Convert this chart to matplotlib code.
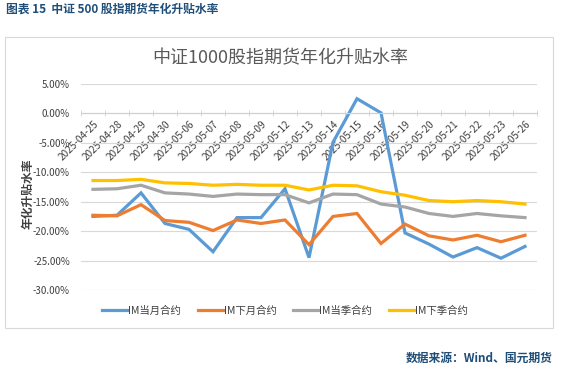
import matplotlib
matplotlib.use("Agg")
import matplotlib.pyplot as plt
from matplotlib.patches import Rectangle
import numpy as np

plt.rcParams['font.family'] = ['Noto Sans CJK SC', 'DejaVu Sans']

dates = ['2025-04-25', '2025-04-28', '2025-04-29', '2025-04-30', '2025-05-06',
         '2025-05-07', '2025-05-08', '2025-05-09', '2025-05-12', '2025-05-13',
         '2025-05-14', '2025-05-15', '2025-05-16', '2025-05-19', '2025-05-20',
         '2025-05-21', '2025-05-22', '2025-05-23', '2025-05-26']

# annualised basis, %
im_cur_month = [-17.5, -17.3, -13.5, -18.7, -19.7, -23.5, -17.7, -17.7, -12.8, -24.5,
                -4.9, 2.5, 0.1, -20.3, -22.2, -24.4, -22.8, -24.6, -22.6]
im_next_month = [-17.3, -17.4, -15.5, -18.2, -18.5, -19.9, -18.1, -18.7, -18.1, -22.3,
                 -17.5, -17.0, -22.1, -18.8, -20.8, -21.5, -20.7, -21.8, -20.7]
im_cur_quarter = [-12.9, -12.8, -12.2, -13.5, -13.7, -14.1, -13.7, -13.8, -13.8, -15.2,
                  -13.7, -13.8, -15.4, -15.9, -17.0, -17.5, -17.0, -17.4, -17.7]
im_next_quarter = [-11.4, -11.4, -11.2, -11.8, -11.9, -12.2, -12.05, -12.2, -12.2, -13.0,
                   -12.2, -12.3, -13.3, -13.9, -14.8, -15.0, -14.8, -15.0, -15.4]

names = ['IM当月合约', 'IM下月合约', 'IM当季合约', 'IM下季合约']
colors = ['#5B9BD5', '#ED7D31', '#A5A5A5', '#FFC000']
yticks = [5, 0, -5, -10, -15, -20, -25, -30]

W, H = 570, 380
fig = plt.figure(figsize=(W / 100, H / 100), dpi=100)

# header & source
fig.text(6 / W, 1 - 9 / H, '图表 15  中证 500 股指期货年化升贴水率', fontsize=8.5,
         fontweight='bold', color='#1F4E79', va='center', ha='left')
fig.text(553 / W, 1 - 358 / H, '数据来源：Wind、国元期货', fontsize=8.5,
         fontweight='bold', color='#1F4E79', va='center', ha='right')

# chart frame
fig.patches.append(Rectangle((5 / W, 1 - 328 / H), 548 / W, 291 / H,
                             transform=fig.transFigure, fill=False,
                             edgecolor='#D9D9D9', lw=0.8))

fig.text(280 / W, 1 - 58 / H, '中证1000股指期货年化升贴水率', fontsize=13,
         color='#595959', ha='center', va='center')

ax = fig.add_axes([81 / W, 1 - 290 / H, 456 / W, 206 / H])
x = np.arange(len(dates))
series = [im_cur_month, im_next_month, im_cur_quarter, im_next_quarter]
handles = []
for s, c, n in zip(series, colors, names):
    h, = ax.plot(x, s, color=c, lw=2.3, label=n, solid_joinstyle='miter')
    handles.append(h)

ax.set_xlim(-0.5, len(dates) - 0.5)
ax.set_ylim(-30, 5)
ax.set_yticks(yticks)
ax.set_yticklabels(['%.2f%%' % v for v in yticks])
ax.grid(axis='y', color='#D9D9D9', lw=0.8)
ax.set_axisbelow(True)
for sp in ['top', 'right', 'left']:
    ax.spines[sp].set_visible(False)
ax.spines['bottom'].set_position(('data', 0))
ax.spines['bottom'].set_color('#D0D0D0')
ax.tick_params(axis='y', length=0, labelsize=7, labelcolor='#404040', pad=8)

ax.set_xticks(x)
ax.set_xticklabels(dates, rotation=45, ha='right', va='top', rotation_mode='anchor')
ax.set_xticks(np.arange(-0.5, len(dates)), minor=True)
ax.tick_params(axis='x', which='major', length=0, labelsize=7.2, labelcolor='#404040', pad=4)
ax.tick_params(axis='x', which='minor', length=4, direction='inout', color='#D0D0D0')

fig.text(28 / W, 1 - 194 / H, '年化升贴水率', rotation=90, fontsize=8.5,
         fontweight='bold', color='#404040', ha='center', va='center')

fig.legend(handles=handles, loc='center', bbox_to_anchor=(285 / W, 1 - 311 / H),
           ncol=4, frameon=False, fontsize=7.5, handlelength=2.4, handletextpad=0.1,
           columnspacing=1.6, labelcolor='#404040')

fig.savefig('out.png', dpi=100)
